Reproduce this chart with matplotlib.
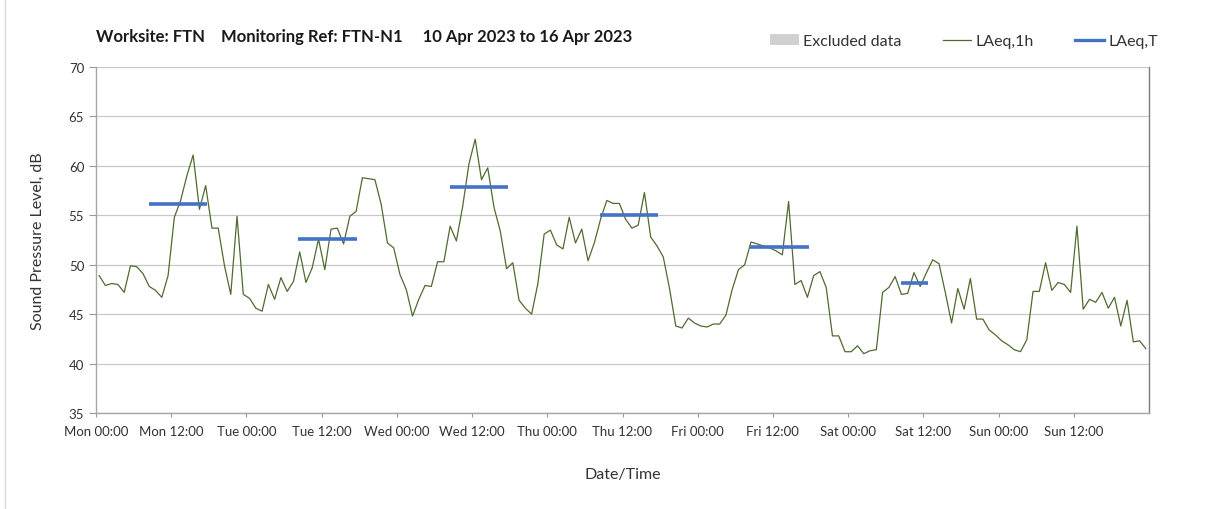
import matplotlib
matplotlib.use("Agg")
import matplotlib.pyplot as plt
from matplotlib.patches import Patch
from matplotlib.lines import Line2D
import numpy as np

plt.rcParams['font.family'] = ['Lato', 'DejaVu Sans']

# Hourly LAeq,1h values, Mon 00:00 to Sun 23:00 (plotted at mid-hour)
laeq_1h = [
    48.9, 47.9, 48.1, 48.0, 47.2, 49.9, 49.8, 49.1, 47.8, 47.4, 46.7, 48.9,
    54.8, 56.5, 59.0, 61.1, 55.6, 58.0, 53.7, 53.7, 49.9, 47.0, 54.9, 47.0,
    46.6, 45.6, 45.3, 48.0, 46.5, 48.7, 47.3, 48.3, 51.3, 48.2, 49.7, 52.6,
    49.5, 53.6, 53.7, 52.1, 54.9, 55.4, 58.8, 58.7, 58.6, 56.1, 52.2, 51.7,
    49.0, 47.5, 44.8, 46.5, 47.9, 47.8, 50.3, 50.3, 53.9, 52.4, 55.9, 60.2,
    62.7, 58.6, 59.8, 55.8, 53.4, 49.6, 50.2, 46.4, 45.6, 45.0, 48.1, 53.1,
    53.5, 52.0, 51.6, 54.8, 52.2, 53.6, 50.4, 52.2, 54.6, 56.5, 56.2, 56.2,
    54.6, 53.7, 54.0, 57.3, 52.8, 51.9, 50.8, 47.6, 43.8, 43.6, 44.6, 44.1,
    43.8, 43.7, 44.0, 44.0, 44.9, 47.5, 49.5, 50.0, 52.3, 52.1, 51.9, 51.7,
    51.4, 51.0, 56.4, 48.0, 48.4, 46.7, 48.9, 49.3, 47.7, 42.8, 42.8, 41.2,
    41.2, 41.8, 41.0, 41.3, 41.4, 47.2, 47.7, 48.8, 47.0, 47.1, 49.2, 47.8,
    49.2, 50.5, 50.1, 47.2, 44.1, 47.6, 45.5, 48.6, 44.5, 44.5, 43.4, 42.9,
    42.3, 41.9, 41.4, 41.2, 42.4, 47.3, 47.3, 50.2, 47.4, 48.2, 48.0, 47.2,
    53.9, 45.5, 46.5, 46.2, 47.2, 45.6, 46.7, 43.8, 46.4, 42.2, 42.3, 41.5,
]

# LAeq,T daytime values (start hour, end hour, level)
laeq_t_start = [8.4, 32.3, 56.4, 80.4, 104.4, 128.5]
laeq_t_end = [17.7, 41.7, 65.7, 89.7, 113.7, 132.8]
laeq_t_level = [56.1, 52.6, 57.9, 55.0, 51.8, 48.1]

tick_labels = ["Mon 00:00", "Mon 12:00", "Tue 00:00", "Tue 12:00", "Wed 00:00",
               "Wed 12:00", "Thu 00:00", "Thu 12:00", "Fri 00:00", "Fri 12:00",
               "Sat 00:00", "Sat 12:00", "Sun 00:00", "Sun 12:00"]

W, H = 1208, 510
fig = plt.figure(figsize=(W / 100, H / 100), dpi=100)
ax = fig.add_axes([96 / W, 1 - 414 / H, (1149 - 96) / W, (414 - 68) / H])

hours = np.arange(len(laeq_1h)) + 0.5
green = '#4f6b2f'
blue = '#4472c4'

ax.plot(hours, laeq_1h, color=green, lw=0.9, zorder=3)
for s, e, v in zip(laeq_t_start, laeq_t_end, laeq_t_level):
    ax.plot([s, e], [v, v], color=blue, lw=2.6, solid_capstyle='butt', zorder=4)

ax.set_xlim(0, 168)
ax.set_ylim(35, 70)
ax.set_yticks(np.arange(35, 71, 5))
ax.set_xticks(np.arange(0, 168, 12))
ax.set_xticklabels(tick_labels, fontsize=9.5, color='#333333')
ax.tick_params(axis='y', labelsize=9.5, colors='#333333', length=5, width=0.8,
               direction='out', color='#999999')
ax.tick_params(axis='x', length=3, width=0.8, direction='out', color='#999999', pad=6)
for lbl in ax.get_yticklabels():
    lbl.set_color('#333333')

ax.set_xticks(np.arange(0, 169, 24), minor=True)
ax.grid(axis='y', color='#c8c8c8', lw=0.9)
ax.grid(axis='x', which='minor', color='#d9d9d9', lw=0.9)
ax.grid(axis='x', which='major', visible=False)
ax.tick_params(axis='x', which='minor', length=0)

for sp in ['left', 'bottom']:
    ax.spines[sp].set_color('#a6a6a6')
    ax.spines[sp].set_linewidth(1.0)
ax.spines['top'].set_visible(False)
ax.spines['right'].set_color('#7f7f7f')
ax.spines['right'].set_linewidth(1.0)

ax.set_ylabel('Sound Pressure Level, dB', fontsize=11.5, color='#333333', labelpad=17)
ax.set_xlabel('Date/Time', fontsize=11.5, color='#333333', labelpad=21)

fig.text(96 / W, 1 - 37 / H, 'Worksite: FTN    Monitoring Ref: FTN-N1     10 Apr 2023 to 16 Apr 2023',
         fontsize=12, fontweight='bold', va='center', ha='left', color='#1a1a1a')

handles = [Patch(facecolor='#d0d0d0', edgecolor='none'),
           Line2D([0], [0], color=green, lw=0.9),
           Line2D([0], [0], color=blue, lw=2.4)]
fig.legend(handles, ['Excluded data', 'LAeq,1h', 'LAeq,T'], loc='center right',
           bbox_to_anchor=(1172 / W, 1 - 42 / H), ncol=3, frameon=False,
           fontsize=11.5, handlelength=1.8, handletextpad=0.25, columnspacing=2.6,
           labelcolor='#333333')

fig.add_artist(Line2D([5 / W, 5 / W], [0, 1], color='#d9d9d9', lw=1))

fig.savefig('out.png', dpi=100)
